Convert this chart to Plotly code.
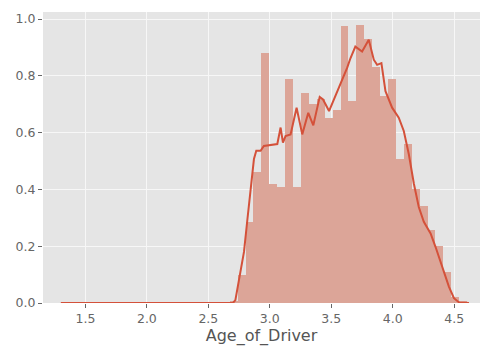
import numpy as np
import plotly.graph_objects as go

# Histogram of log driver age: 50 equal-width bins between ln(4) and ln(100)
bin_lo = np.log(4.0)
bin_hi = np.log(100.0)
n_bins = 50
bin_edges = np.linspace(bin_lo, bin_hi, n_bins + 1)
bin_centers = 0.5 * (bin_edges[:-1] + bin_edges[1:])
bin_width = bin_edges[1] - bin_edges[0]

# Normalised bar heights (density), one per bin
density = [
    0, 0, 0, 0, 0, 0, 0, 0, 0, 0,
    0, 0, 0, 0, 0, 0, 0, 0, 0, 0,
    0.005, 0.098, 0.287, 0.46, 0.88, 0.42, 0.41, 0.79, 0.41, 0.74,
    0.70, 0.72, 0.65, 0.68, 0.977, 0.71, 0.98, 0.93, 0.83, 0.73,
    0.79, 0.507, 0.56, 0.40, 0.34, 0.256, 0.20, 0.11, 0.02, 0.005,
]

# Kernel density estimate curve
kde_x = [1.30, 2.70, 2.72, 2.75, 2.79, 2.816, 2.843, 2.871, 2.89, 2.925,
         2.952, 2.993, 3.034, 3.061, 3.088, 3.107, 3.128, 3.169, 3.218, 3.264,
         3.313, 3.354, 3.406, 3.433, 3.482, 3.536, 3.588, 3.629, 3.656, 3.696,
         3.751, 3.805, 3.846, 3.873, 3.908, 3.941, 3.995, 4.049, 4.09, 4.131,
         4.172, 4.212, 4.253, 4.308, 4.348, 4.403, 4.457, 4.498, 4.54, 4.62]
kde_y = [0.0, 0.0, 0.01, 0.087, 0.18, 0.287, 0.40, 0.507, 0.536, 0.536,
         0.553, 0.555, 0.559, 0.56, 0.618, 0.565, 0.588, 0.594, 0.688, 0.594,
         0.67, 0.626, 0.726, 0.717, 0.676, 0.73, 0.781, 0.828, 0.862, 0.903,
         0.886, 0.927, 0.857, 0.839, 0.845, 0.746, 0.688, 0.653, 0.606, 0.524,
         0.42, 0.338, 0.286, 0.245, 0.198, 0.128, 0.058, 0.017, 0.002, 0.0]

x_ticks = [1.5, 2.0, 2.5, 3.0, 3.5, 4.0, 4.5]
y_ticks = [0.0, 0.2, 0.4, 0.6, 0.8, 1.0]

bar_fill = "#DCA598"
line_red = "#D4513A"
text_grey = "#666666"

fig = go.Figure()
fig.add_trace(go.Bar(
    x=bin_centers,
    y=density,
    width=bin_width,
    marker=dict(color=bar_fill, line=dict(width=0)),
    showlegend=False,
    hoverinfo="skip",
))
fig.add_trace(go.Scatter(
    x=kde_x,
    y=kde_y,
    mode="lines",
    line=dict(color=line_red, width=2),
    showlegend=False,
))

fig.update_layout(
    width=488,
    height=349,
    margin=dict(l=43, r=8, t=12, b=44),
    paper_bgcolor="white",
    plot_bgcolor="#E5E5E5",
    bargap=0,
    font=dict(family="DejaVu Sans", color=text_grey, size=12),
    xaxis=dict(
        range=[1.155, 4.71],
        tickvals=x_ticks,
        tickformat=".1f",
        showgrid=True,
        gridcolor="#F7F7F7",
        gridwidth=1.2,
        zeroline=False,
        ticks="outside",
        ticklen=4,
        tickcolor=text_grey,
        tickfont=dict(size=12.5, color=text_grey),
        title=dict(text="Age_of_Driver", font=dict(size=16, color="#555555"), standoff=4),
    ),
    yaxis=dict(
        range=[0, 1.025],
        tickvals=y_ticks,
        tickformat=".1f",
        showgrid=True,
        gridcolor="#F7F7F7",
        gridwidth=1.2,
        zeroline=False,
        ticks="outside",
        ticklen=4,
        tickcolor=text_grey,
        tickfont=dict(size=12.5, color=text_grey),
    ),
)

fig.write_html("out.html")
